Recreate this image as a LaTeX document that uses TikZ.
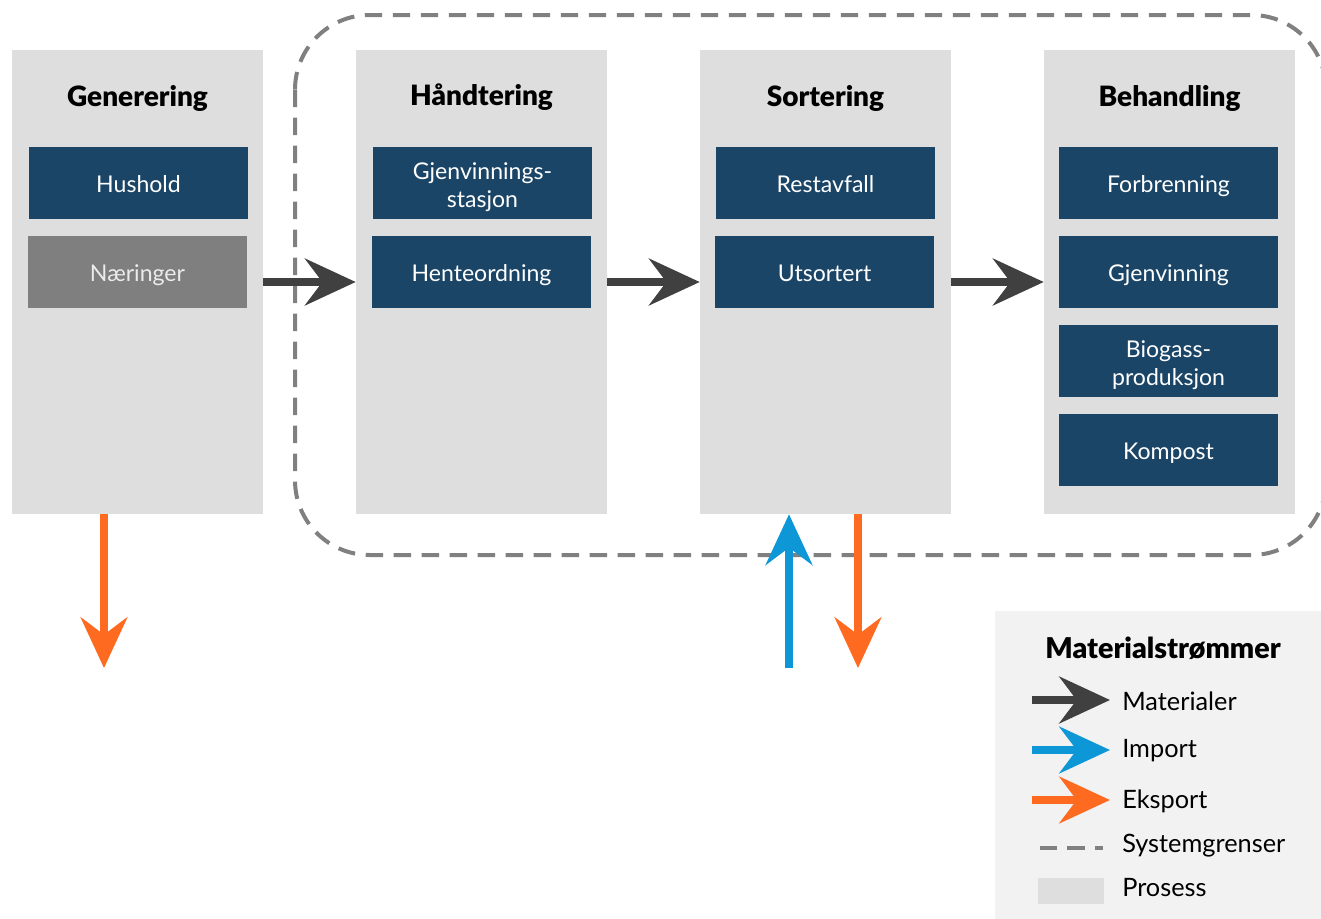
\documentclass[tikz,border=0pt]{standalone}
\usepackage{fontspec}
\setmainfont{Lato}[BoldFont={Lato Black}]
\usetikzlibrary{arrows.meta}
\definecolor{procgrey}{HTML}{DEDEDE}
\definecolor{darkblue}{HTML}{1B4567}
\definecolor{midgrey}{HTML}{7F7F7F}
\definecolor{arrowgrey}{HTML}{404040}
\definecolor{exporange}{HTML}{FF6A21}
\definecolor{impblue}{HTML}{0E97D7}
\definecolor{legendbg}{HTML}{F2F2F2}
\definecolor{boundgrey}{HTML}{808080}
\newcommand\firstlinestrut{\rule{0pt}{19pt}}
\tikzset{
  px/.style={x=0.75pt,y=-0.75pt},
  procbox/.style={fill=procgrey, draw=none, minimum width=188.25pt, minimum height=348pt, inner sep=0pt},
  subbox/.style={fill=darkblue, draw=none, minimum width=164.25pt, minimum height=54pt, inner sep=0pt, text=white, font=\fontsize{17.3}{21}\selectfont, align=center, text height=13.9pt, text depth=0pt},
  twoline/.style={text height={}, text depth={}},
  greybox/.style={subbox, fill=midgrey, text=white!92!black},
  title/.style={font=\bfseries\fontsize{21}{24}\selectfont, inner sep=0pt},
  bigtip/.style={-{Stealth[length=38pt, width=35pt, inset=13pt]}},
  matarrow/.style={bigtip, line width=6pt, draw=arrowgrey},
  exparrow/.style={bigtip, line width=5.5pt, draw=exporange},
  imparrow/.style={bigtip, line width=5.5pt, draw=impblue},
  sysbound/.style={draw=boundgrey, line width=3pt, dash pattern=on 13pt off 8pt},
  legtext/.style={anchor=west, inner sep=0pt, font=\fontsize{19}{22}\selectfont},
}
\begin{document}
\begin{tikzpicture}[px]
\useasboundingbox (0,0) rectangle (1321,918);
\clip (0,0) rectangle (1321,918);
% process boxes
\node[procbox] (gen) at (137.5,282) {};
\node[procbox] (hand) at (481.5,282) {};
\node[procbox] (sort) at (825.5,282) {};
\node[procbox] (beh) at (1169.5,282) {};
% system boundary
\draw[sysbound, rounded corners=56pt] (295,15) rectangle (1326,555);
% titles
\node[title] (tgen) at (137.5,98) {Generering};
\node[title] (thand) at (481.5,97) {Håndtering};
\node[title] (tsort) at (825.5,98) {Sortering};
\node[title] (tbeh) at (1169.5,98) {Behandling};
% sub boxes
\node[subbox] (hus) at (138.5,183) {Hushold};
\node[greybox] (nae) at (137.5,272) {Næringer};
\node[subbox, twoline] (gjs) at (482.5,183) {\firstlinestrut Gjenvinnings-\\stasjon};
\node[subbox] (hen) at (481.5,272) {Henteordning};
\node[subbox] (rest) at (825.5,183) {Restavfall};
\node[subbox] (uts) at (824.5,272) {Utsortert};
\node[subbox] (forb) at (1168.5,183) {Forbrenning};
\node[subbox] (gjv) at (1168.5,272) {Gjenvinning};
\node[subbox, twoline] (bio) at (1168.5,361) {\firstlinestrut Biogass-\\produksjon};
\node[subbox] (komp) at (1168.5,450) {Kompost};
% material arrows
\draw[matarrow] (gen.east) -- (hand.west);
\draw[matarrow] (hand.east) -- (sort.west);
\draw[matarrow] (sort.east) -- (beh.west);
% export / import
\coordinate (ex1) at (104,668);
\coordinate (ex2) at (858,668);
\coordinate (im1) at (789,668);
\draw[exparrow] (gen.south -| ex1) -- (ex1);
\draw[exparrow] (sort.south -| ex2) -- (ex2);
\draw[imparrow] (im1) -- (sort.south -| im1);
% legend
\path[fill=legendbg] (995,611) rectangle (1330,925);
\node[font=\bfseries\fontsize{21.5}{24}\selectfont, inner sep=0pt] (ltitle) at (1163,648) {Materialstrømmer};
\coordinate (la1) at (1032,700); \coordinate (lb1) at (1110,700);
\coordinate (la2) at (1032,750); \coordinate (lb2) at (1110,750);
\coordinate (la3) at (1032,800); \coordinate (lb3) at (1110,800);
\coordinate (la4) at (1040,848); \coordinate (lb4) at (1103,848);
\draw[matarrow] (la1) -- (lb1);
\draw[imparrow] (la2) -- (lb2);
\draw[exparrow] (la3) -- (lb3);
\draw[sysbound, dash pattern=on 13pt off 7.5pt] (la4) -- (lb4);
\node[fill=procgrey, minimum width=49.5pt, minimum height=20pt, inner sep=0pt] (lproc) at (1071,891) {};
\node[legtext] (lt1) at (1122,701) {Materialer};
\node[legtext] (lt2) at (1122,751) {Import};
\node[legtext] (lt3) at (1122,801) {Eksport};
\node[legtext] (lt4) at (1122,846) {Systemgrenser};
\node[legtext] (lt5) at (1122,888) {Prosess};
\end{tikzpicture}
\end{document}
